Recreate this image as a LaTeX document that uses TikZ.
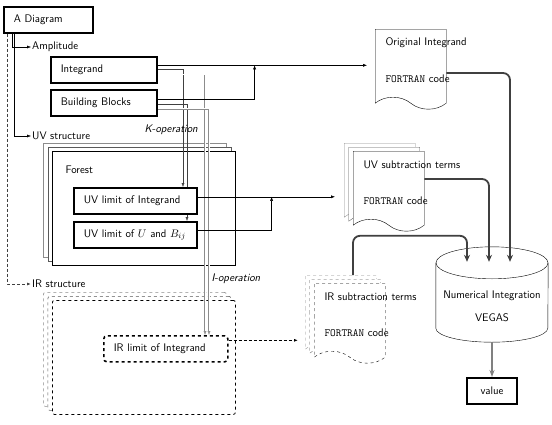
\documentclass[tikz,border=0pt]{standalone}
\usetikzlibrary{shapes.symbols,shadows,arrows.meta}
\renewcommand{\familydefault}{\sfdefault}
\pgfdeclarelayer{stacklayer}
\pgfdeclarelayer{linelayer}
\pgfsetlayers{stacklayer,linelayer,main}
\begin{document}
\begin{tikzpicture}
[x=1pt,y=-1pt,
  every node/.style={font=\fontsize{11}{13}\selectfont},
  boxdecorate/.style={draw,line width=1.6pt,fill=white,minimum height=26pt,
    inner xsep=10pt,inner ysep=0pt,align=left,anchor=north west},
  stackdecorate/.style={draw,fill=white,minimum width=183pt,minimum height=114pt,
    inner sep=0pt,anchor=north west,
    copy shadow={shadow xshift=-9pt,shadow yshift=8pt,draw=black!45,#1},
    copy shadow={shadow xshift=-4.5pt,shadow yshift=4pt,draw=black!65,#1}},
  docdecorate/.style={draw,fill=white,tape,tape bend top=none,
    tape bend bottom=out and in,tape bend height=12pt,
    minimum width=71pt,minimum height=80pt,inner sep=0pt,anchor=north west},
  docstack/.style={docdecorate,
    copy shadow={shadow xshift=-9pt,shadow yshift=8pt,draw=black!45,#1},
    copy shadow={shadow xshift=-4.5pt,shadow yshift=4pt,draw=black!65,#1}},
  arrowdecorate/.style={-{Latex[length=4pt,width=3pt]}},
  kline/.style={arrowdecorate,draw=black!75},
  iline/.style={arrowdecorate,draw=black!45,double,double distance=0.8pt},
  irline/.style={arrowdecorate,densely dashed,thick},
  feed/.style={-{Stealth[length=7pt,width=6pt]},draw=black!75,line width=1.8pt,
    rounded corners=7pt},
  scale=1]
\useasboundingbox (0,0) rectangle (552,424);
%% stacks behind everything
\begin{pgfonlayer}{stacklayer}
\node (forest) at (52,151) [stackdecorate={}] {};
\node (irstack) at (52,300) [stackdecorate={dashed,semithick},dashed,thick,
  rounded corners=2pt] {};
\end{pgfonlayer}
%% boxes
\foreach \nodename/\txt/\x/\y/\w in {diag/A Diagram/3/6/69, integ/Integrand/50/56/86,
  bb/Building Blocks/50/89/86, uvint/UV limit of Integrand/73/187/103,
  uvub/UV limit of $U$ and $B_{ij}$/73/221/103} {
  \node (\nodename) at (\x,\y) [boxdecorate,text width=\w pt] {\txt};
}
\node (irlim) at (103,335) [boxdecorate,dashed,rounded corners=3pt,text width=104pt]
  {IR limit of Integrand};
\node (value) at (492,391) [draw,line width=2pt,minimum width=50pt,minimum height=26pt]
  {value};
%% labels
\foreach \nodename/\txt/\y in {amp/Amplitude/47, uvs/UV structure/136,
  irs/IR structure/284} {
  \node (\nodename) at (31,\y) [anchor=west,inner sep=1pt] {\txt};
}
\node (forestlbl) at (62,170) [anchor=west] {Forest};
\node (kop) at (141,130) [anchor=west] {\textit{K-operation}};
\node (iop) at (208,279) [anchor=west] {\textit{I-operation}};
%% documents
\node (orig) at (375,29) [docdecorate] {};
\node (uvdoc) at (353,151) [docstack={}] {};
\node (irdoc) at (314,283) [docstack={dashed},dashed] {};
\foreach \nodename/\txt in {orig/Original Integrand, uvdoc/UV subtraction terms,
  irdoc/IR subtraction terms} {
  \node (\nodename-txt) at ([xshift=7pt,yshift=-14pt]\nodename.north west)
    [anchor=west] {\txt};
  \node (\nodename-code) at ([xshift=7pt,yshift=-50pt]\nodename.north west)
    [anchor=west] {\texttt{FORTRAN} code};
}
%% cylinder
\node (cyl) at (492,294.5) [minimum width=112pt,minimum height=95pt,inner sep=0pt] {};
\draw ([yshift=-16pt]cyl.north) ellipse [x radius=56pt,y radius=16pt];
\draw ([yshift=-16pt]cyl.north west) -- ([yshift=14pt]cyl.south west)
  arc [start angle=180,end angle=360,x radius=56pt,y radius=14pt]
  -- ([yshift=-16pt]cyl.north east);
\node (cyltxt) at ([yshift=-12pt]cyl.center) [align=center]
  {Numerical Integration\\[10pt]VEGAS};
%% edges or lines
\coordinate (integout) at ([yshift=4.5pt]integ.east);
\coordinate (join1) at ([xshift=97pt]integout);
\coordinate (uvout) at ([yshift=4pt]uvint.east);
\coordinate (join2) at ([xshift=74pt]uvout);
\coordinate (irout) at ([yshift=8.5pt]irlim.east);
\draw[arrowdecorate,shorten >=8pt] (integout) -- (integout -| orig.west);
\draw[arrowdecorate] ([yshift=4pt]bb.east) -| (join1);
\draw[arrowdecorate,shorten >=18pt] (uvout) -- (uvout -| uvdoc.west);
\draw[arrowdecorate] ([yshift=5pt]uvub.east) -| (join2);
\draw[irline,shorten >=16pt] (irout) -- (irout -| irdoc.west);
\draw[arrowdecorate] ([xshift=9pt]diag.south west) |- (amp.west);
\draw[arrowdecorate] ([xshift=11pt]diag.south west) |- (uvs.west);
\draw[arrowdecorate,densely dashed,draw=black!75,line width=0.8pt]
  ([xshift=4.5pt]diag.south west) |- (irs.west);
\begin{pgfonlayer}{linelayer}
\draw[kline] ([yshift=0.5pt]integ.east) -| ([xshift=110pt]uvint.north west);
\draw[kline] ([yshift=-1pt]bb.east) -| ([xshift=114pt]uvub.north west);
\draw[iline] ([yshift=-4.5pt]integ.east) -| ([xshift=102pt]irlim.north west);
\draw[iline] ([yshift=-6pt]bb.east) -| ([xshift=106pt]irlim.north west);
\end{pgfonlayer}
\draw[feed] ([yshift=-44pt]orig.north east) -| ([xshift=18pt,yshift=-15pt]cyl.north);
\draw[feed] ([yshift=-28pt]uvdoc.north east) -| ([xshift=-3pt,yshift=-15pt]cyl.north);
\draw[feed] ([xshift=39pt,yshift=8pt]irdoc.north west)
  |- ([xshift=-25pt,yshift=11pt]cyl.north) -- ([xshift=-25pt,yshift=-15pt]cyl.north);
\draw[-{Stealth[length=7pt,width=5pt]},draw=black!50,line width=1.5pt]
  (cyl.south) -- (value.north);
\end{tikzpicture}
\end{document}
